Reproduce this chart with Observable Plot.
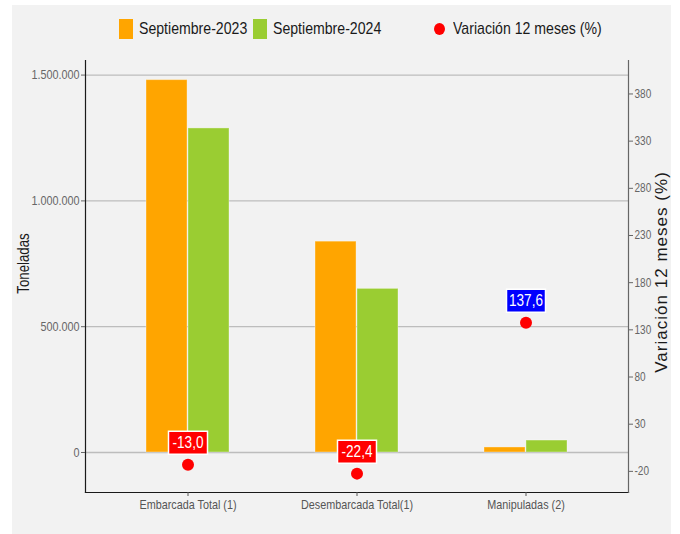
<!DOCTYPE html>
<html>
<head>
<meta charset="utf-8">
<script src="https://cdn.jsdelivr.net/npm/d3@7"></script>
<script src="https://cdn.jsdelivr.net/npm/@observablehq/plot@0.6"></script>
<style>
  html, body { margin: 0; padding: 0; background: #ffffff; }
  #panel {
    position: absolute; left: 12px; top: 5px; width: 659px; height: 529px;
    background: #f2f2f2;
    font-family: "Liberation Sans", Arial, sans-serif;
  }
  #legend { position: absolute; left: 0; top: 0; width: 659px; height: 45px; }
  .sw { position: absolute; top: 14px; width: 14px; height: 20px; }
  .lt { position: absolute; top: 13px; font-size: 17px; line-height: 22px; color: #1a1a1a; white-space: nowrap;
        transform: scaleX(0.83); transform-origin: left center; }
  .dotsw { position: absolute; top: 18px; width: 11px; height: 12px; border-radius: 50%; background: #ff0000; }
  #chart { position: absolute; left: 0; top: 45px; }
</style>
</head>
<body>
<div id="panel">
  <div id="legend">
    <div class="sw" style="left:107px;background:#ffa500"></div>
    <div class="lt" style="left:127px">Septiembre-2023</div>
    <div class="sw" style="left:241px;background:#9acd32"></div>
    <div class="lt" style="left:261px">Septiembre-2024</div>
    <div class="dotsw" style="left:422px"></div>
    <div class="lt" style="left:441px">Variación 12 meses (%)</div>
  </div>
  <div id="chart"></div>
</div>
<script>
// ---- data ----
const categories = ["Embarcada Total (1)", "Desembarcada Total(1)", "Manipuladas (2)"];
const sep2023 = [1480000, 838000, 20000];
const sep2024 = [1288000, 650300, 47500];
const variacion = [-13.0, -22.4, 137.6];
const leftTicks = [0, 500000, 1000000, 1500000];
const rightTicks = [-20, 30, 80, 130, 180, 230, 280, 330, 380];
const color2023 = "#ffa500", color2024 = "#9acd32";

// ---- scales setup ----
const K = 3750;              // tonnes per 1 % on the secondary axis (400 % == 1.500.000 t)
const yDomain = [-159000, 1558000];
const width = 659, height = 484;
const mL = 73, mR = 43, mT = 10, mB = 42;
const padIn = 0.506, padOut = 0.351;

const rows = categories.map((c, i) => ({cat: c, v2023: sep2023[i], v2024: sep2024[i], pct: variacion[i]}));

const loc = d3.formatLocale({decimal: ",", thousands: ".", grouping: [3], currency: ["", ""], minus: "-"});
const fmtT = loc.format(",d");
const fmtP = loc.format(".1f");

const bw = d3.scaleBand().domain(categories).range([mL, width - mR]).paddingInner(padIn).paddingOuter(padOut).bandwidth();
const half = bw / 2;

const boxSymbol = { draw(ctx) { ctx.rect(-19.5, -11.5, 39, 23); } };

const chart = Plot.plot({
  width, height,
  marginLeft: mL, marginRight: mR, marginTop: mT, marginBottom: mB,
  style: {background: "transparent", fontFamily: "'Liberation Sans', Arial, sans-serif", overflow: "visible"},
  x: {domain: categories, paddingInner: padIn, paddingOuter: padOut},
  y: {domain: yDomain},
  marks: [
    Plot.gridY(leftTicks, {stroke: "#bdbdbd", strokeOpacity: 1, strokeWidth: 1.3}),
    Plot.barY(rows, {x: "cat", y: "v2023", fill: color2023, insetRight: half, stroke: "#ffffff", strokeOpacity: 0.35, strokeWidth: 1}),
    Plot.barY(rows, {x: "cat", y: "v2024", fill: color2024, insetLeft: half, stroke: "#ffffff", strokeOpacity: 0.35, strokeWidth: 1}),
    Plot.frame({anchor: "left", stroke: "#1a1a1a", strokeWidth: 1.2}),
    Plot.frame({anchor: "bottom", stroke: "#1a1a1a", strokeWidth: 1.2}),
    Plot.frame({anchor: "right", stroke: "#666666", strokeWidth: 1.2}),
    Plot.axisY({anchor: "left", ticks: leftTicks, tickFormat: fmtT, tickSize: 4, tickPadding: 2, fontSize: 13.5, color: "#666666", label: null}),
    Plot.axisY({anchor: "right", ticks: rightTicks.map(p => p * K), tickFormat: d => String(Math.round(d / K)), tickSize: 4, tickPadding: 2, fontSize: 12.5, color: "#666666", label: null}),
    Plot.axisX({anchor: "bottom", tickSize: 4, tickPadding: 3, fontSize: 13.5, color: "#555555", label: null}),
    Plot.dot(rows, {x: "cat", y: d => d.pct * K, r: 6, fill: "#ff0000", stroke: "none"}),
    Plot.dot(rows, {x: "cat", y: d => d.pct * K, r: 1, dy: -22, symbol: boxSymbol, fill: d => d.pct < 0 ? "#ff0000" : "#0000ff", stroke: "#ffffff", strokeWidth: 1.5}),
    Plot.text(rows, {x: "cat", y: d => d.pct * K, dy: -22, text: d => fmtP(d.pct), fill: "#ffffff", fontSize: 17}),
    Plot.text(["Toneladas"], {frameAnchor: "left", textAnchor: "middle", dx: -62, dy: -13, rotate: -90, fontSize: 17, fill: "#1a1a1a"}),
    Plot.text(["Variación 12 meses (%)"], {frameAnchor: "right", textAnchor: "middle", dx: 33, dy: -4, rotate: -90, fontSize: 17, fill: "#1a1a1a"})
  ]
});
document.getElementById("chart").appendChild(chart);

// condense the lettering (the original uses a narrow sans face)
chart.querySelectorAll("text").forEach(t => {
  const txt = t.textContent;
  const isRightTitle = txt === "Variación 12 meses (%)";
  const f = isRightTitle ? 1.12 : txt === "Toneladas" ? 0.78 : 0.8;
  const w = t.getComputedTextLength();
  if (w > 0) {
    t.setAttribute("textLength", (w * f).toFixed(1));
    t.setAttribute("lengthAdjust", isRightTitle ? "spacing" : "spacingAndGlyphs");
  }
});
</script>
</body>
</html>
